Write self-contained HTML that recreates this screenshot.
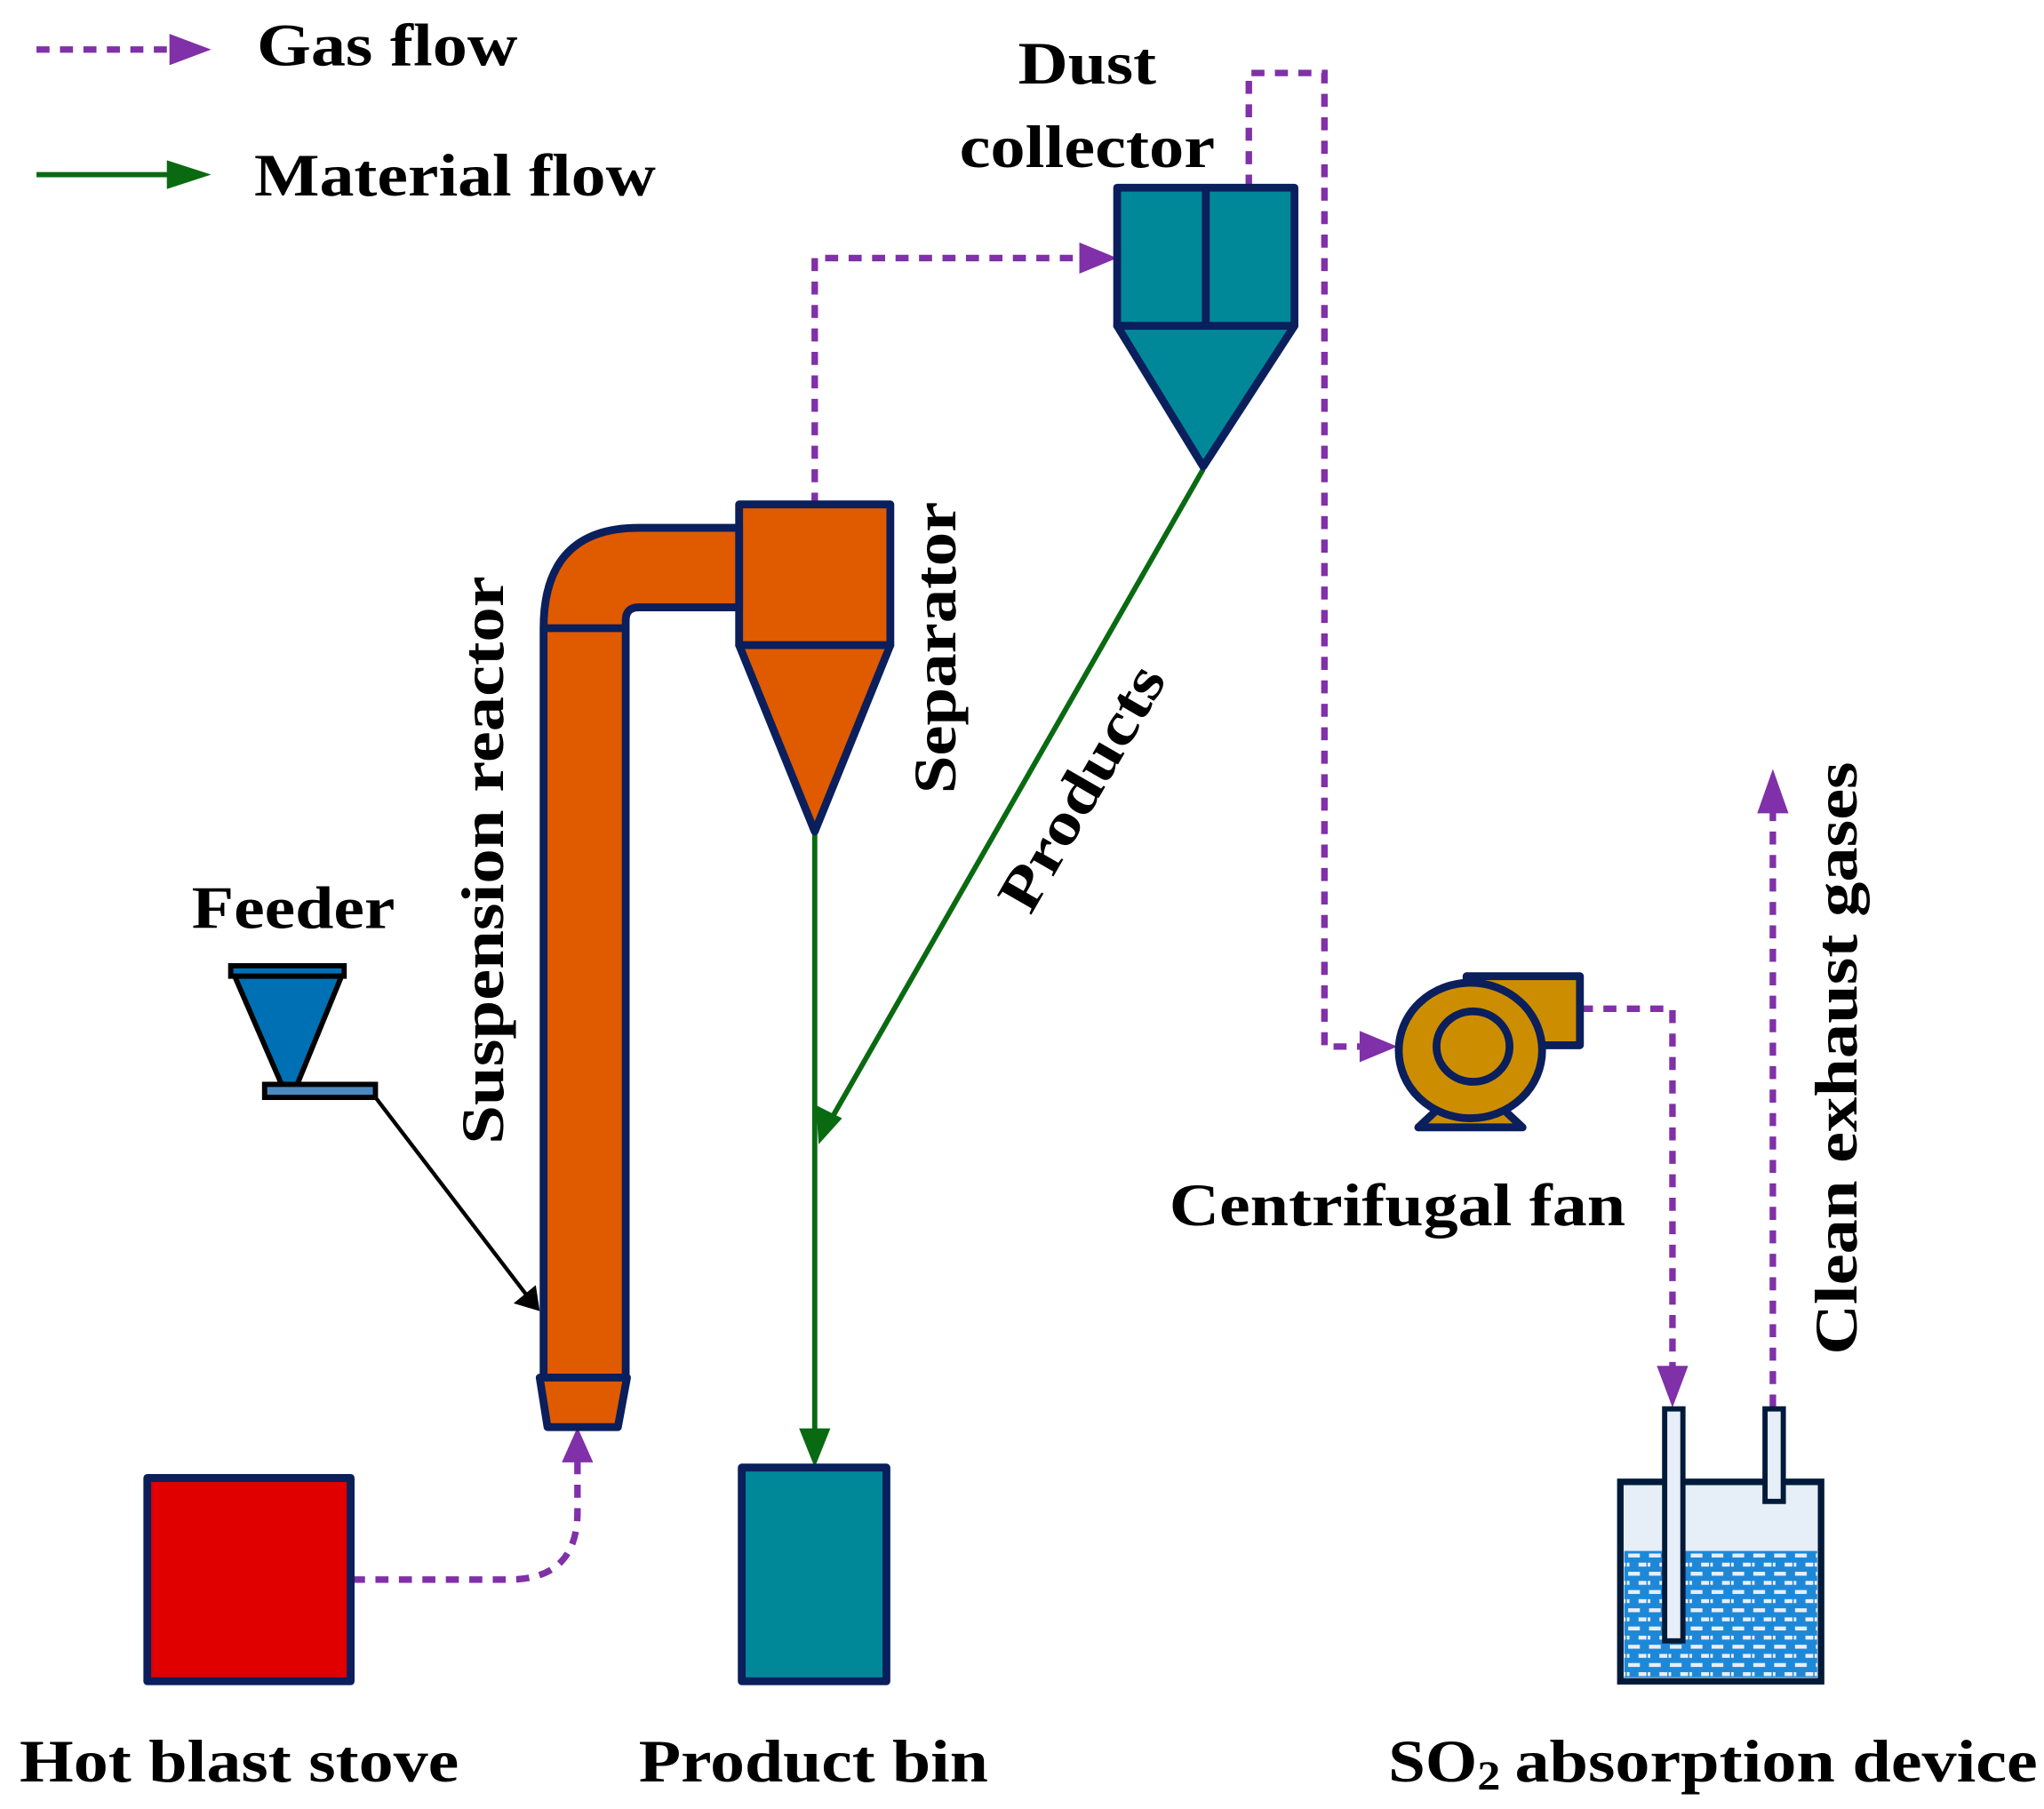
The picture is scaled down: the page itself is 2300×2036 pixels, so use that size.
<!DOCTYPE html>
<html><head><meta charset="utf-8"><style>html,body{margin:0;padding:0;background:#fff}svg{display:block}text{font-family:"Liberation Serif",serif;font-weight:bold}</style></head><body>
<svg width="2300" height="2036" viewBox="0 0 1568 1388" preserveAspectRatio="none" xmlns="http://www.w3.org/2000/svg">
<defs>
<pattern id="water" width="16" height="14" patternUnits="userSpaceOnUse"><rect width="16" height="14" fill="#1e88d8"/><rect x="1" y="2" width="9" height="3" fill="#e8eef8"/><rect x="9" y="9" width="6" height="3" fill="#e8eef8"/><rect x="0" y="9" width="2" height="3" fill="#e8eef8"/></pattern>
</defs>
<g fill="none" stroke="#8030a8" stroke-width="5" stroke-dasharray="10,8">
<line x1="28" y1="38" x2="130" y2="38"/>
<polyline points="625,388 625,198 830,198"/>
<polyline points="958,144 958,56 1016,56 1016,803 1045,803"/>
<polyline points="1212,774 1283,774 1283,1050"/>
<polyline points="1360,1080 1360,620"/>
<path d="M270,1212 L390,1212 Q443,1212 443,1160 L443,1120"/>
</g>
<g fill="#8030a8">
<path d="M130,26 L162,38 L130,50z"/>
<path d="M828,186 L857,198 L828,210z"/>
<path d="M1043,791 L1072,803 L1043,815z"/>
<path d="M1271,1048 L1283,1080 L1295,1048z"/>
<path d="M1348,624 L1360,590 L1372,624z"/>
<path d="M431,1122 L443,1095 L455,1122z"/>
</g>
<g stroke="#0a6a12" stroke-width="4" fill="#0a6a12">
<line x1="28" y1="134" x2="130" y2="134"/><path d="M128,123 L162,134 L128,145z" stroke="none"/>
<line x1="625" y1="640" x2="625" y2="1100"/><path d="M613,1096 L625,1126 L637,1096z" stroke="none"/>
<line x1="923" y1="360" x2="638" y2="858"/><path d="M626,848 L628,878 L646,858z" stroke="none"/>
</g>
<line x1="288" y1="842" x2="405" y2="995" stroke="#000" stroke-width="3"/>
<path d="M394,1000 L414,1006 L411,986z" fill="#000"/>
<g stroke="#0a1f5c" stroke-width="6" stroke-linejoin="round">
<rect x="857" y="144" width="136" height="106" fill="#008899"/>
<line x1="925" y1="144" x2="925" y2="250"/>
<path d="M857,250 L993,250 L923,358z" fill="#008899"/>
<rect x="567" y="387" width="116" height="108" fill="#e05a00"/>
<path d="M567,495 L683,495 L625,638z" fill="#e05a00"/>
<path d="M417,1057 L417,482 Q417,405 490,405 L567,405 L567,466 L490,466 Q480,466 480,476 L480,1057 z" fill="#e05a00"/>
<line x1="417" y1="482" x2="480" y2="482"/>
<path d="M414,1057 L481,1057 L474,1095 L420,1095z" fill="#e05a00"/>
<rect x="113" y="1134" width="156" height="156" fill="#e00000"/>
<rect x="569" y="1126" width="111" height="164" fill="#008899"/>
<path d="M1088,865 L1104,850 L1152,850 L1168,865z" fill="#cc8e00"/>
<rect x="1125" y="749" width="87" height="53" fill="#cc8e00"/>
<ellipse cx="1128" cy="806" rx="55" ry="52" fill="#cc8e00"/>
<ellipse cx="1130" cy="803" rx="28" ry="27" fill="#cc8e00"/>
</g>
<g stroke="#001a3a" stroke-width="5">
<rect x="1243" y="1137" width="154" height="153" fill="#e6eef8"/>
<rect x="1246" y="1190" width="148" height="97" fill="url(#water)" stroke="none"/>
<rect x="1277" y="1081" width="14" height="178" fill="#e6eef8" stroke-width="4"/>
<rect x="1354" y="1081" width="14" height="71" fill="#e6eef8" stroke-width="4"/>
</g>
<g stroke="#000" stroke-width="4">
<rect x="177" y="741" width="87" height="8" fill="#0070b4"/>
<path d="M180,749 L262,749 L228,832 L216,832z" fill="#0070b4"/>
<rect x="203" y="832" width="85" height="10" fill="#4a8ac0"/>
</g>
<g fill="#000" font-size="46">
<text x="197" y="50" textLength="200" lengthAdjust="spacingAndGlyphs">Gas flow</text>
<text x="195" y="150" textLength="308" lengthAdjust="spacingAndGlyphs">Material flow</text>
<text x="834" y="64" text-anchor="middle" textLength="106" lengthAdjust="spacingAndGlyphs">Dust</text>
<text x="834" y="128" text-anchor="middle" textLength="196" lengthAdjust="spacingAndGlyphs">collector</text>
<text x="225" y="712" text-anchor="middle" textLength="156" lengthAdjust="spacingAndGlyphs">Feeder</text>
<text x="1072" y="940" text-anchor="middle" textLength="350" lengthAdjust="spacingAndGlyphs">Centrifugal fan</text>
<text x="15" y="1367" textLength="337" lengthAdjust="spacingAndGlyphs">Hot blast stove</text>
<text x="490" y="1367" textLength="268" lengthAdjust="spacingAndGlyphs">Product bin</text>
<text x="1065" y="1367" textLength="86" lengthAdjust="spacingAndGlyphs">SO<tspan font-size="32" dy="6">2</tspan></text>
<text x="1162" y="1367" textLength="401" lengthAdjust="spacingAndGlyphs">absorption device</text>
<text transform="translate(386,660) rotate(-90)" text-anchor="middle" textLength="436" lengthAdjust="spacingAndGlyphs">Suspension reactor</text>
<text transform="translate(733,497) rotate(-90)" text-anchor="middle" textLength="224" lengthAdjust="spacingAndGlyphs">Separator</text>
<text transform="translate(843,612) rotate(-60)" text-anchor="middle" textLength="210" lengthAdjust="spacingAndGlyphs">Products</text>
<text transform="translate(1424,812) rotate(-90)" text-anchor="middle" textLength="455" lengthAdjust="spacingAndGlyphs">Clean exhaust gases</text>
</g>
</svg>
</body></html>
